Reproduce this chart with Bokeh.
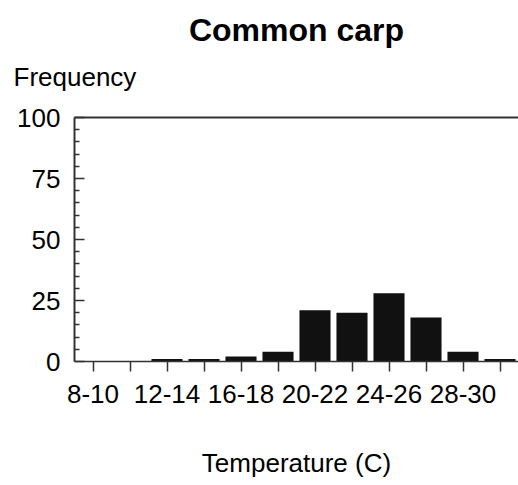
from bokeh.plotting import figure
from bokeh.models import Range1d, FixedTicker, LinearAxis, Title, ColumnDataSource
from bokeh.embed import file_html
from bokeh.resources import INLINE

bins = ["8-10", "10-12", "12-14", "14-16", "16-18", "18-20",
        "20-22", "22-24", "24-26", "26-28", "28-30", "30-32"]
frequency = [0, 0, 1, 1, 2, 4, 21, 20, 28, 18, 4, 1]
y_ticks = [0, 25, 50, 75, 100]
y_minor = [5, 10, 15, 20, 30, 35, 40, 45, 55, 60, 65, 70, 80, 85, 90, 95]
title_text = "Common carp"
y_title = "Frequency"
x_title = "Temperature (C)"

FONT = "Liberation Sans"
AX = "#333333"

positions = list(range(len(bins)))
src = ColumnDataSource(dict(x=positions, top=frequency, label=bins))

p = figure(width=518, height=485, output_backend="svg", toolbar_location=None,
           x_range=Range1d(-0.5, len(bins) - 0.5), y_range=Range1d(0, 100),
           min_border_left=74, min_border_right=0, min_border_top=10,
           min_border_bottom=124)
p.background_fill_color = "white"
p.border_fill_color = "white"
p.outline_line_color = None
p.grid.visible = False

p.vbar(x="x", top="top", width=0.84, bottom=0, source=src,
       fill_color="#111111", line_color=None)

# x axis
xa = p.xaxis[0]
xa.ticker = FixedTicker(ticks=positions)
xa.major_label_overrides = {i: (b if i % 2 == 0 else "") for i, b in enumerate(bins)}
xa.major_tick_in = 0
xa.major_tick_out = 10
xa.minor_tick_in = 0
xa.minor_tick_out = 0
xa.axis_line_color = AX
xa.axis_line_width = 1.5
xa.major_tick_line_color = AX
xa.major_tick_line_width = 1.5
xa.major_label_text_font = FONT
xa.major_label_text_font_size = "26px"
xa.major_label_text_color = "black"
xa.major_label_standoff = 13
xa.axis_label = x_title
xa.axis_label_text_font = FONT
xa.axis_label_text_font_size = "26px"
xa.axis_label_text_font_style = "normal"
xa.axis_label_text_color = "black"
xa.axis_label_standoff = 42

# y axis
ya = p.yaxis[0]
ya.ticker = FixedTicker(ticks=y_ticks, minor_ticks=y_minor)
ya.major_tick_in = 10
ya.major_tick_out = 0
ya.minor_tick_in = 5
ya.minor_tick_out = 0
ya.axis_line_color = AX
ya.axis_line_width = 2
ya.major_tick_line_color = AX
ya.major_tick_line_width = 1.5
ya.minor_tick_line_color = AX
ya.minor_tick_line_width = 1.5
ya.major_label_text_font = FONT
ya.major_label_text_font_size = "26px"
ya.major_label_text_color = "black"
ya.major_label_standoff = 14

# top line (an invisible tick gives spacing above the frame)
top = LinearAxis(ticker=FixedTicker(ticks=[5.5]), major_tick_in=0, major_tick_out=23,
                 minor_tick_in=0, minor_tick_out=0, axis_line_color=AX,
                 axis_line_width=2, major_tick_line_color=None,
                 minor_tick_line_color=None, major_label_standoff=0,
                 major_label_overrides={5.5: ""})
p.add_layout(top, "above")

p.add_layout(Title(text=y_title, align="left", offset=-61, text_font=FONT,
                   text_font_size="26px", text_font_style="normal",
                   text_color="black", standoff=6), "above")

p.title = Title(text=title_text, align="center", text_font=FONT,
                text_font_size="32px", text_font_style="bold",
                text_color="black", standoff=18)

open("out.html", "w").write(file_html(p, INLINE))
